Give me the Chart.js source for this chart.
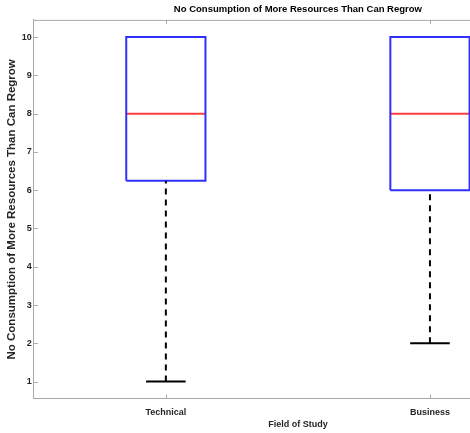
<!DOCTYPE html>
<html>
<head>
<meta charset="utf-8">
<script src="https://cdn.jsdelivr.net/npm/chart.js@4"></script>
<style>
  body { margin: 0; background: #fff; overflow: hidden; }
  #wrap { width: 595px; height: 433px; }
</style>
</head>
<body>
<div id="wrap"><canvas id="boxChart" width="595" height="433"></canvas></div>
<script>
// datos del boxplot
const categories = ['Technical', 'Business'];
const lowerWhisker = [1, 2];
const q1 = [6.25, 6];
const median = [8, 8];
const q3 = [10, 10];
const upperWhisker = [10, 10];
const yTicks = [1, 2, 3, 4, 5, 6, 7, 8, 9, 10];

const boxHalf = 0.15;
const capHalf = 0.075;
const axisGray = '#a8a8a8';
const textColor = '#262626';
const fontFam = '"Liberation Sans", Arial, sans-serif';

let datasets = [];

categories.forEach((cat, i) => {
    const x = i + 1;
    // bigote inferior punteado + tope
    datasets.push({
        data: [{x: x, y: lowerWhisker[i]}, {x: x, y: q1[i]}],
        borderColor: '#000', borderWidth: 2, borderDash: [6, 5]
    });
    datasets.push({
        data: [{x: x - capHalf, y: lowerWhisker[i]}, {x: x + capHalf, y: lowerWhisker[i]}],
        borderColor: '#000', borderWidth: 2
    });
    // bigote superior solo si sobresale de la caja (si no, queda tapado)
    if (upperWhisker[i] > q3[i]) {
        datasets.push({
            data: [{x: x, y: q3[i]}, {x: x, y: upperWhisker[i]}],
            borderColor: '#000', borderWidth: 2, borderDash: [6, 5]
        });
        datasets.push({
            data: [{x: x - capHalf, y: upperWhisker[i]}, {x: x + capHalf, y: upperWhisker[i]}],
            borderColor: '#000', borderWidth: 2
        });
    }
    // caja
    datasets.push({
        data: [
            {x: x - boxHalf, y: q1[i]}, {x: x + boxHalf, y: q1[i]},
            {x: x + boxHalf, y: q3[i]}, {x: x - boxHalf, y: q3[i]},
            {x: x - boxHalf, y: q1[i]}
        ],
        borderColor: '#2f2fff', borderWidth: 2
    });
    // mediana
    datasets.push({
        data: [{x: x - boxHalf, y: median[i]}, {x: x + boxHalf, y: median[i]}],
        borderColor: '#ff3b3b', borderWidth: 2
    });
});

datasets.forEach(d => {
    d.showLine = true;
    d.pointRadius = 0;
    d.fill = false;
    d.tension = 0;
});

// marco superior/derecho y marcas hacia adentro (estilo MATLAB)
const framePlugin = {
    id: 'frame',
    afterDraw(chart) {
        const {ctx, chartArea: a, scales} = chart;
        ctx.save();
        ctx.strokeStyle = axisGray;
        ctx.lineWidth = 1;
        ctx.beginPath();
        ctx.moveTo(a.left, a.top + 0.5);
        ctx.lineTo(a.right, a.top + 0.5);
        ctx.moveTo(a.right - 0.5, a.top);
        ctx.lineTo(a.right - 0.5, a.bottom);
        scales.y.ticks.forEach(t => {
            const y = Math.round(scales.y.getPixelForValue(t.value)) + 0.5;
            ctx.moveTo(a.left, y);
            ctx.lineTo(a.left + 4, y);
        });
        scales.x.ticks.forEach(t => {
            const x = Math.round(scales.x.getPixelForValue(t.value)) + 0.5;
            ctx.moveTo(x, a.bottom);
            ctx.lineTo(x, a.bottom - 4);
            ctx.moveTo(x, a.top);
            ctx.lineTo(x, a.top + 4);
        });
        ctx.stroke();
        ctx.restore();
    }
};

new Chart(document.getElementById('boxChart'), {
    type: 'scatter',
    data: { datasets: datasets },
    plugins: [framePlugin],
    options: {
        responsive: false,
        animation: false,
        layout: { padding: { left: 5, right: 33, top: 0, bottom: 2.6 } },
        plugins: {
            legend: { display: false },
            tooltip: { enabled: false },
            title: {
                display: true,
                fullSize: false,
                text: 'No Consumption of More Resources Than Can Regrow',
                color: '#000',
                font: { family: fontFam, size: 9.5, weight: 'bold' },
                padding: { top: 4, bottom: 4.5 }
            }
        },
        scales: {
            x: {
                type: 'linear',
                min: 0.5,
                max: 2.5,
                afterBuildTicks: s => { s.ticks = categories.map((c, i) => ({value: i + 1})); },
                grid: { display: false, drawTicks: false },
                border: { display: true, color: axisGray, width: 1 },
                ticks: {
                    padding: 8,
                    color: textColor,
                    font: { family: fontFam, size: 9, weight: 'bold' },
                    callback: v => categories[v - 1]
                },
                title: {
                    display: true,
                    text: 'Field of Study',
                    color: textColor,
                    font: { family: fontFam, size: 9, weight: 'bold' },
                    padding: { top: -6, bottom: 0 }
                }
            },
            y: {
                type: 'linear',
                min: 0.55,
                max: 10.45,
                afterBuildTicks: s => { s.ticks = yTicks.map(v => ({value: v})); },
                grid: { display: false, drawTicks: false },
                border: { display: true, color: axisGray, width: 1 },
                ticks: {
                    padding: 2,
                    color: textColor,
                    font: { family: fontFam, size: 9, weight: 'bold' }
                },
                title: {
                    display: true,
                    text: 'No Consumption of More Resources Than Can Regrow',
                    color: textColor,
                    font: { family: fontFam, size: 11.5, weight: 'bold' },
                    padding: { top: 0, bottom: 1 }
                }
            }
        }
    }
});
</script>
</body>
</html>
